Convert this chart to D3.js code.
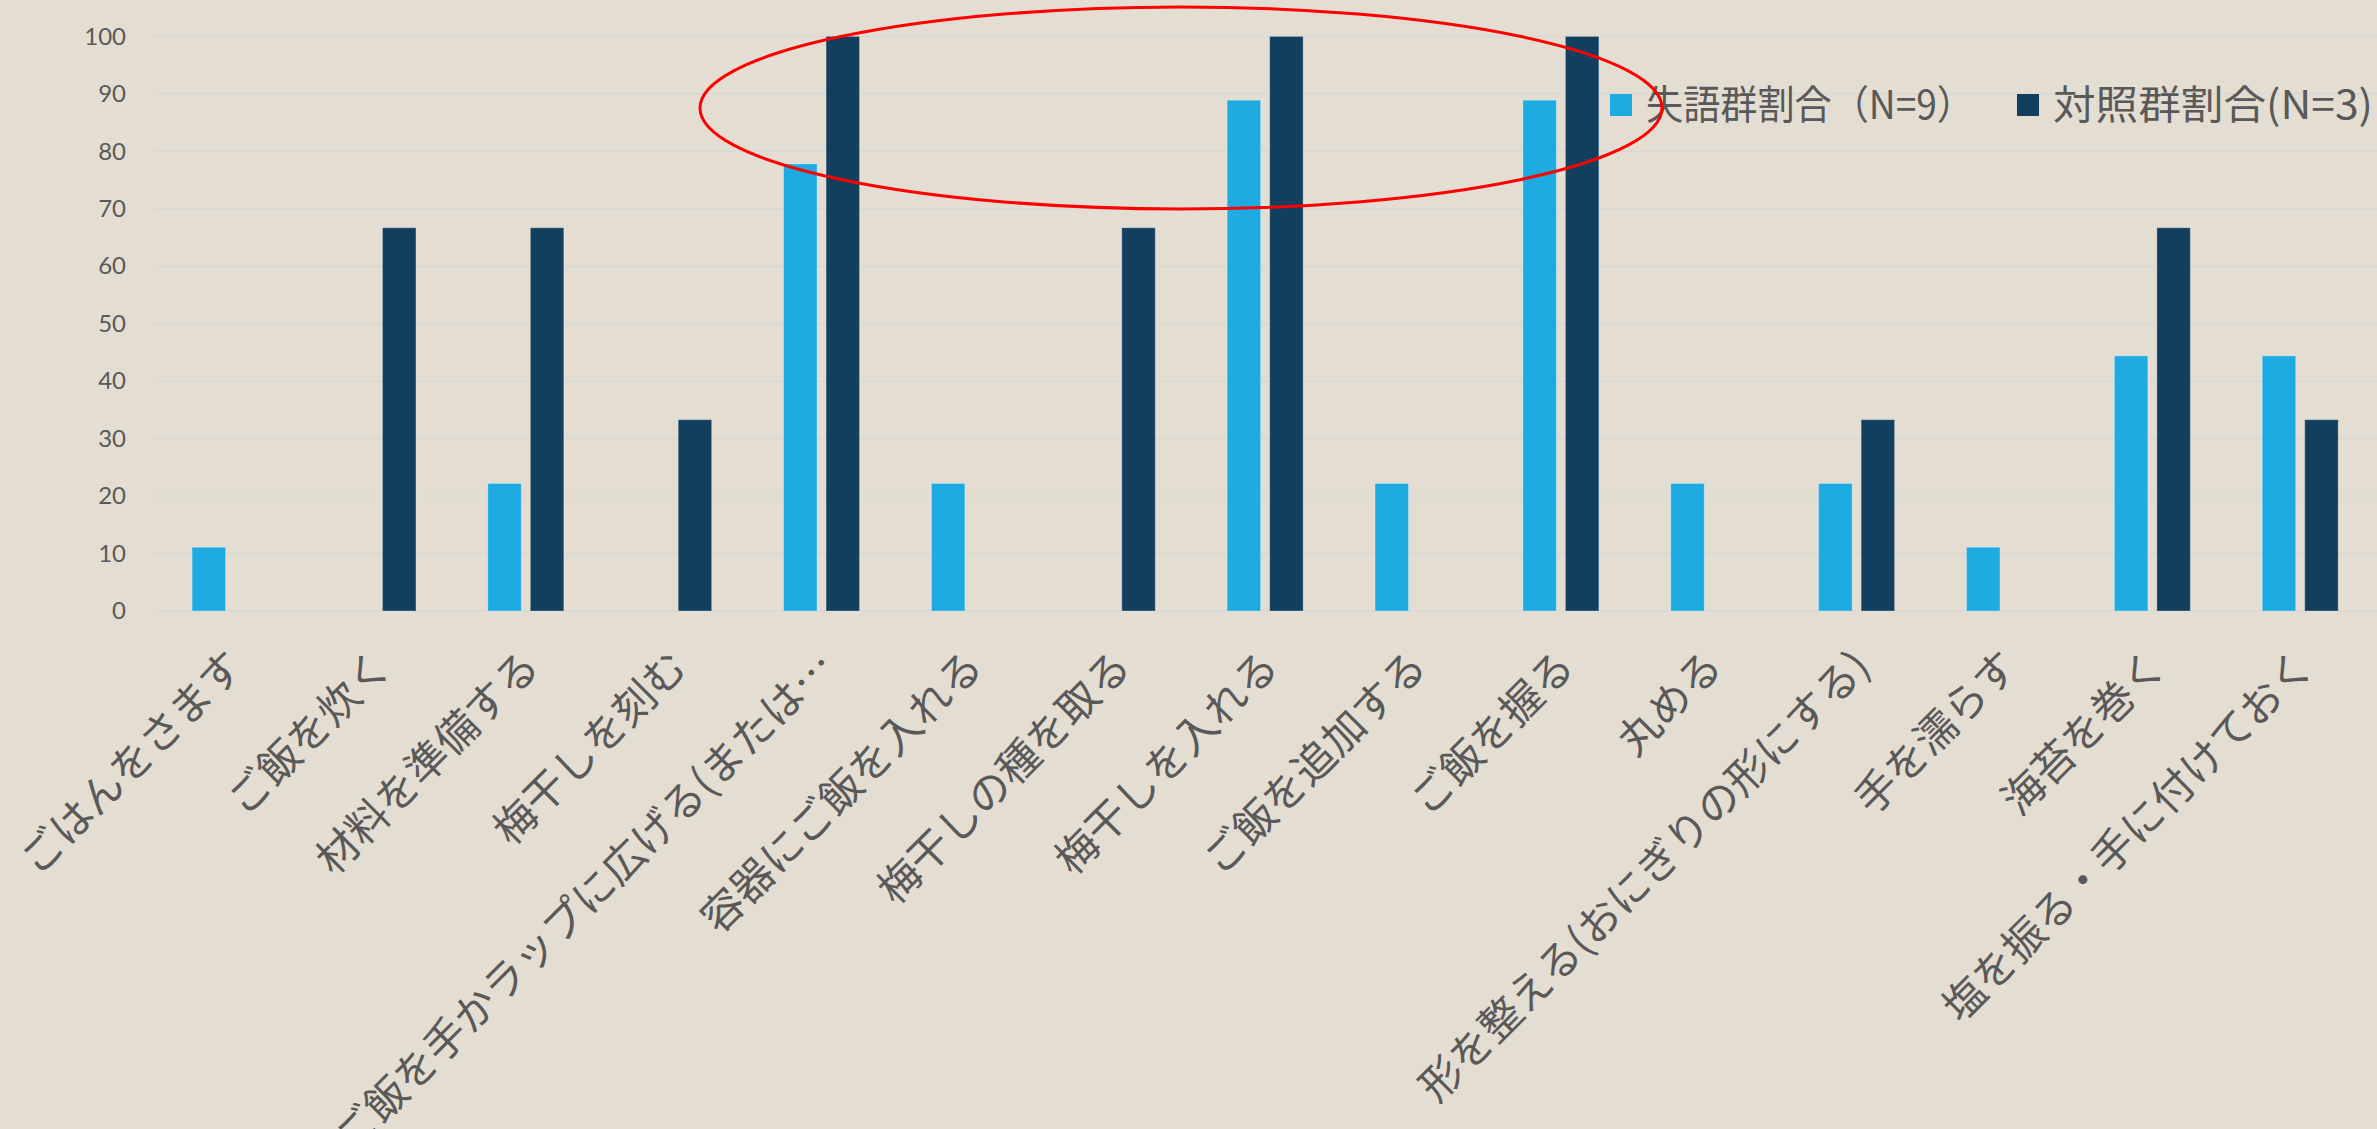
<!DOCTYPE html>
<html>
<head>
<meta charset="utf-8">
<script src="https://cdn.jsdelivr.net/npm/d3@7"></script>
<style>
  html, body { margin: 0; padding: 0; background: #E4DED2; }
  svg { display: block; }
</style>
</head>
<body>
<svg id="chart" width="2377" height="1129"></svg>
<script>
const categories = [
  "ごはんをさます",
  "ご飯を炊く",
  "材料を準備する",
  "梅干しを刻む",
  "ご飯を手かラップに広げる(または…",
  "容器にご飯を入れる",
  "梅干しの種を取る",
  "梅干しを入れる",
  "ご飯を追加する",
  "ご飯を握る",
  "丸める",
  "形を整える(おにぎりの形にする)",
  "手を濡らす",
  "海苔を巻く",
  "塩を振る・手に付けておく"
];
const aphasiaValues = [11.1, 0, 22.2, 0, 77.8, 22.2, 0, 88.9, 22.2, 88.9, 22.2, 22.2, 11.1, 44.4, 44.4];
const controlValues = [0, 66.7, 66.7, 33.3, 100, 0, 66.7, 100, 0, 100, 0, 33.3, 0, 66.7, 33.3];
const seriesNames = ["失語群割合（N=9）", "対照群割合(N=3)"];
const yTicks = [0, 10, 20, 30, 40, 50, 60, 70, 80, 90, 100];

const colors = ["#1DABE2", "#133F5F"];
const textColor = "#595959";
const gridColor = "#D8D7D3";
const jpFont = "'Noto Sans CJK JP', 'Noto Sans', sans-serif";

const svg = d3.select("#chart");
const W = 2377, H = 1129;
svg.append("rect").attr("width", W).attr("height", H).attr("fill", "#E4DED2");

const plotLeft = 156, plotRight = 2374, plotTop = 36.4, plotBottom = 611;

const x0 = d3.scaleBand().domain(categories).range([plotLeft, plotRight]).padding(0);
const bw = x0.bandwidth();
const x1 = d3.scaleBand().domain(seriesNames)
  .range([0.244 * bw, 0.758 * bw]).paddingInner(0.212).paddingOuter(0);
const y = d3.scaleLinear().domain([0, 100]).range([plotBottom, plotTop]);

// gridlines
svg.append("g").selectAll("line").data(yTicks).join("line")
  .attr("x1", 155).attr("x2", W)
  .attr("y1", d => y(d)).attr("y2", d => y(d))
  .attr("stroke", gridColor).attr("stroke-width", 1.5);

// y axis labels
const yAxis = d3.axisLeft(y).tickValues(yTicks).tickSize(0).tickPadding(0);
const gy = svg.append("g").attr("transform", `translate(126,0)`).call(yAxis);
gy.select(".domain").remove();
gy.selectAll("text")
  .attr("fill", textColor)
  .style("font-family", "Lato, 'DejaVu Sans', sans-serif")
  .style("font-size", "24px");

// bars
const series = [aphasiaValues, controlValues];
const barData = [];
categories.forEach((c, i) => {
  series.forEach((vals, s) => {
    if (vals[i] > 0) barData.push({ cat: c, s: s, name: seriesNames[s], v: vals[i] });
  });
});
svg.append("g").selectAll("rect").data(barData).join("rect")
  .attr("x", d => x0(d.cat) + x1(d.name))
  .attr("width", x1.bandwidth())
  .attr("y", d => y(d.v))
  .attr("height", d => y(0) - y(d.v))
  .attr("fill", d => colors[d.s])
  .attr("stroke", "rgba(255,255,255,0.3)")
  .attr("stroke-width", 1);

// x labels
svg.append("g").selectAll("text").data(categories).join("text")
  .attr("transform", d => `translate(${x0(d) + bw / 2 + 16},${plotBottom + 58}) rotate(-45)`)
  .attr("text-anchor", "end")
  .attr("fill", textColor)
  .style("font-family", jpFont)
  .style("font-size", "42px")
  .text(d => d);

// legend
const legendX = [1610, 2017];
const legendLen = [328, 320];
const lg = svg.append("g").selectAll("g").data(seriesNames).join("g")
  .attr("transform", (d, i) => `translate(${legendX[i]},94)`);
lg.append("rect").attr("width", 22).attr("height", 22).attr("fill", (d, i) => colors[i]);
lg.append("text")
  .attr("x", 36).attr("y", 11).attr("dy", "0.36em")
  .attr("textLength", (d, i) => legendLen[i])
  .attr("lengthAdjust", "spacingAndGlyphs")
  .attr("fill", textColor)
  .style("font-family", jpFont)
  .style("font-size", "40px")
  .text(d => d);

// red annotation ellipse
svg.append("ellipse")
  .attr("cx", 1181).attr("cy", 108).attr("rx", 481).attr("ry", 101)
  .attr("fill", "none").attr("stroke", "#FF0000").attr("stroke-width", 3);
</script>
</body>
</html>
